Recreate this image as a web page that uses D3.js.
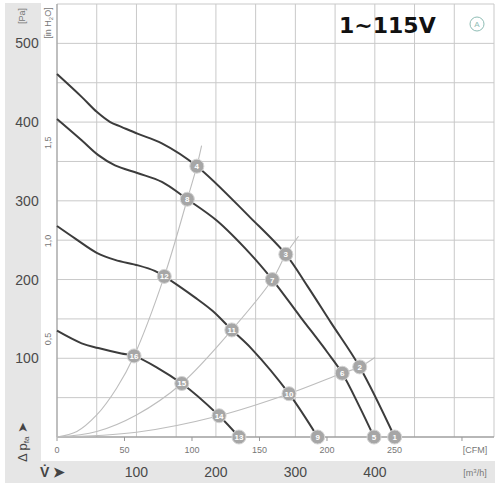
<!DOCTYPE html>
<html lang="en">
<head>
<meta charset="utf-8">
<script src="https://cdn.jsdelivr.net/npm/d3@7"></script>
<style>
  body { margin: 0; background: #fff; }
  svg { display: block; font-family: "Liberation Sans", Arial, sans-serif; }
  .grid line { stroke: #c9c9c9; stroke-width: 1; }
  .big { font-size: 14px; fill: #4a4a4a; }
  .small { font-size: 9px; fill: #777; }
</style>
</head>
<body>
<script>
// fan curves: [m3/h, Pa]
const curveA = [[0,461],[31,432],[50,413],[67,400],[81,394],[102,385],[132,373],[176,344],[243,279],[288,232],[315,192],[345,145],[381,89],[425,0]];
const curveB = [[0,404],[31,377],[52,358],[73,345],[102,335],[132,324],[164,302],[201,275],[243,233],[271,200],[306,153],[340,108],[359,81],[381,38],[399,0]];
const curveC = [[0,268],[23,252],[50,234],[73,225],[102,218],[123,211],[135,204],[174,177],[196,160],[220,136],[245,112],[292,55],[328,0]];
const curveD = [[0,135],[31,119],[52,113],[81,106],[97,103],[157,68],[204,27],[229,0]];

// system (resistance) curves
const sys1 = [[0,0],[25,7],[50,28],[75,62],[97,103],[135,204],[164,302],[176,344],[182,370]];
const sys2 = [[0,0],[50,7],[100,28],[157,68],[220,136],[271,200],[288,232],[304,255]];
const sys3 = [[0,0],[100,6],[204,27],[292,55],[359,81],[381,89],[400,101]];

// numbered operating points
const markers = [
  [1,425,0],[2,381,89],[3,288,232],[4,176,344],
  [5,399,0],[6,359,81],[7,271,200],[8,164,302],
  [9,328,0],[10,292,55],[11,220,136],[12,135,204],
  [13,229,0],[14,204,27],[15,157,68],[16,97,103]
];

const paTicks = [100,200,300,400,500];
const inTicks = [0.5,1.0,1.5];
const cfmTicks = [0,50,100,150,200,250];
const m3Ticks = [100,200,300,400];

const w = 500, h = 488;
const svg = d3.select("body").append("svg").attr("width", w).attr("height", h);

let xScale = d3.scaleLinear().domain([0,550]).range([57,494]);
let yScale = d3.scaleLinear().domain([0,550]).range([437,4]);
let cfmScale = d3.scaleLinear().domain([0,550/1.699]).range([57,494]);
let inScale = d3.scaleLinear().domain([0,550/249.09]).range([437,4]);

// grey bands
svg.append("rect").attr("x",5).attr("y",3).attr("width",36).attr("height",480).attr("fill","#e6e6e6");
svg.append("rect").attr("x",5).attr("y",461).attr("width",490).attr("height",22).attr("fill","#e6e6e6");

// grid
let grid = svg.append("g").attr("class","grid");
grid.selectAll(".v").data(d3.range(0,551,50)).enter().append("line")
  .attr("x1", d => xScale(d)).attr("x2", d => xScale(d))
  .attr("y1", yScale(550)).attr("y2", yScale(0));
grid.selectAll(".h").data(d3.range(0,551,50)).enter().append("line")
  .attr("x1", xScale(0)).attr("x2", xScale(550))
  .attr("y1", d => yScale(d)).attr("y2", d => yScale(d));

svg.append("line").attr("x1",xScale(0)).attr("x2",xScale(550))
  .attr("y1",yScale(0)).attr("y2",yScale(0)).attr("stroke","#8a8a8a");
svg.append("line").attr("x1",xScale(0)).attr("x2",xScale(0))
  .attr("y1",yScale(0)).attr("y2",yScale(550)).attr("stroke","#9a9a9a");

// CFM ticks under the axis
svg.selectAll(".cfmtick").data(d3.range(0,301,50)).enter().append("line")
  .attr("x1", d => cfmScale(d)).attr("x2", d => cfmScale(d))
  .attr("y1", yScale(0)).attr("y2", yScale(0)+4).attr("stroke","#999");
svg.selectAll(".cfmlab").data(cfmTicks).enter().append("text")
  .attr("class","small").attr("text-anchor","middle")
  .attr("x", d => cfmScale(d)).attr("y", 453).text(d => d);
svg.append("text").attr("class","small").attr("text-anchor","middle")
  .attr("x", 475).attr("y", 453).text("[CFM]");

// m3/h labels in bottom band
svg.selectAll(".m3lab").data(m3Ticks).enter().append("text")
  .attr("class","big").attr("text-anchor","middle")
  .attr("x", d => xScale(d)).attr("y", 477).text(d => d);
svg.append("text").attr("class","small").attr("text-anchor","middle")
  .attr("x", 475).attr("y", 476).html("[m<tspan font-size='6' dy='-3'>3</tspan><tspan dy='3'>/h]</tspan>");

// Pa labels
svg.selectAll(".palab").data(paTicks).enter().append("text")
  .attr("class","big").attr("text-anchor","middle")
  .attr("x", 27).attr("y", d => yScale(d)+5).text(d => d);
svg.append("text").attr("class","small").attr("text-anchor","middle")
  .attr("transform","translate(25,16) rotate(-90)").text("[Pa]");

// inch H2O labels
svg.selectAll(".inlab").data(inTicks).enter().append("text")
  .attr("class","small").attr("text-anchor","middle")
  .attr("transform", d => "translate(51," + inScale(d) + ") rotate(-90)")
  .text(d => d.toFixed(1).replace(".", ","));
svg.append("text").attr("class","small").attr("text-anchor","middle")
  .attr("transform","translate(51,23) rotate(-90)")
  .html("[in H<tspan font-size='6' dy='2'>2</tspan><tspan dy='-2'>O]</tspan>");

// axis names
svg.append("text").attr("font-size","13px").attr("fill","#444").attr("text-anchor","middle")
  .attr("transform","translate(27,442) rotate(-90)")
  .html("Δ p<tspan font-size='8' dy='2'>fa</tspan><tspan dy='-2'> ➤</tspan>");
svg.append("text").attr("font-size","14px").attr("font-weight","bold").attr("fill","#444")
  .attr("x", 40).attr("y", 477).text("V̇ ➤");

// curves
let line = d3.line().x(d => xScale(d[0])).y(d => yScale(d[1])).curve(d3.curveCatmullRom);

svg.selectAll(".sys").data([sys1, sys2, sys3]).enter().append("path")
  .attr("d", line).attr("fill","none").attr("stroke","#bdbdbd").attr("stroke-width",1.1);

svg.selectAll(".fan").data([curveA, curveB, curveC, curveD]).enter().append("path")
  .attr("d", line).attr("fill","none").attr("stroke","#3c3c3c").attr("stroke-width",2);

// markers
let mk = svg.selectAll(".mk").data(markers).enter().append("g")
  .attr("transform", d => "translate(" + xScale(d[1]) + "," + yScale(d[2]) + ")");
mk.append("circle").attr("r",7).attr("fill","#a6a6a6").attr("stroke","#d4d4d4").attr("stroke-width",1);
mk.append("text").attr("text-anchor","middle").attr("y",3)
  .attr("font-size","8px").attr("font-weight","bold").attr("fill","#fff")
  .text(d => d[0]);

// title and badge
svg.append("text").attr("x",339).attr("y",33)
  .attr("font-family","DejaVu Sans").attr("font-weight","bold").attr("font-size","22px")
  .attr("fill","#111").text("1~115V");
svg.append("circle").attr("cx",477).attr("cy",24).attr("r",7)
  .attr("fill","none").attr("stroke","#8fbdb5").attr("stroke-width",1);
svg.append("text").attr("x",477).attr("y",27).attr("text-anchor","middle")
  .attr("font-size","8px").attr("fill","#8fbdb5").text("A");
</script>
</body>
</html>
